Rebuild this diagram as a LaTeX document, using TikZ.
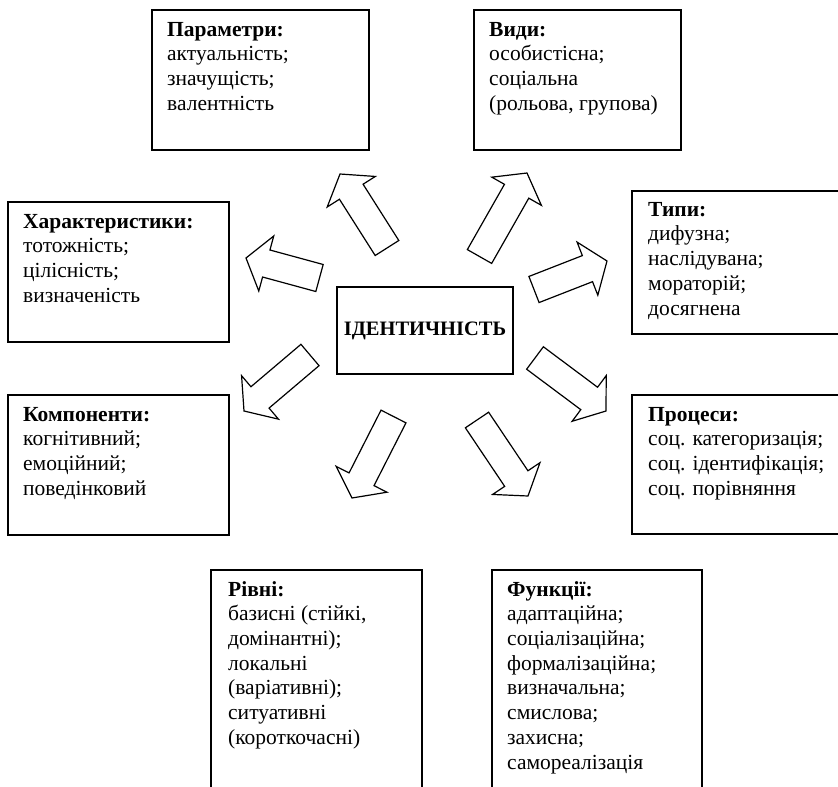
\documentclass[tikz,border=0pt]{standalone}
\usepackage{fontspec}
\setmainfont{Liberation Serif}
\usetikzlibrary{calc}
\tikzset{
  box/.style={draw=black, line width=1.4pt, anchor=north west, inner sep=0pt, outer sep=0pt},
  txt/.style={anchor=north west, align=left, inner sep=0pt, font=\fontsize{21.5}{24.7}\selectfont,
              execute at begin node={\rule{0pt}{16pt}}},
  barrow/.style={draw=black, line width=1.2pt, fill=white, line join=miter},
}
\newcommand{\blockarrow}[2]{%
  \coordinate (#1h) at ($(#2)!21pt!(#1)$);
  \draw[barrow] ($(#1)!14pt!90:(#2)$) -- ($(#1h)!14pt!90:(#2)$) -- ($(#1h)!28.5pt!90:(#2)$)
    -- (#2) -- ($(#1h)!28.5pt!-90:(#2)$) -- ($(#1h)!14pt!-90:(#2)$) -- ($(#1)!14pt!-90:(#2)$) -- cycle;
}
\begin{document}
\begin{tikzpicture}[x=1pt,y=-1pt]
\useasboundingbox (0,0) rectangle (838,787);
\clip (0,0) rectangle (838,787);
% boxes
\node[box, minimum width=217pt, minimum height=140pt] (par) at (152,10) {};
\node[txt] (part) at (167,22) {\textbf{Параметри:}\\актуальність;\\значущість;\\валентність};
\node[box, minimum width=207pt, minimum height=140pt] (vid) at (474,10) {};
\node[txt] (vidt) at (489,22) {\textbf{Види:}\\особистісна;\\соціальна\\(рольова, групова)};
\node[box, minimum width=221pt, minimum height=140pt] (har) at (8,202) {};
\node[txt] (hart) at (23,214) {\textbf{Характеристики:}\\тотожність;\\цілісність;\\визначеність};
\node[box, minimum width=260pt, minimum height=143pt] (tip) at (632,191) {};
\node[txt] (tipt) at (648,202) {\textbf{Типи:}\\дифузна;\\наслідувана;\\мораторій;\\досягнена};
\node[box, minimum width=221pt, minimum height=140pt] (kom) at (8,395) {};
\node[txt] (komt) at (23,407) {\textbf{Компоненти:}\\когнітивний;\\емоційний;\\поведінковий};
\node[box, minimum width=260pt, minimum height=139pt] (pro) at (632,395) {};
\node[txt] (prot) at (648,407) {\textbf{Процеси:}\\соц. категоризація;\\соц. ідентифікація;\\соц. порівняння};
\node[box, minimum width=211pt, minimum height=300pt] (riv) at (211,570) {};
\node[txt] (rivt) at (228,581) {\textbf{Рівні:}\\базисні (стійкі,\\домінантні);\\локальні\\(варіативні);\\ситуативні\\(короткочасні)};
\node[box, minimum width=210pt, minimum height=300pt] (fun) at (492,570) {};
\node[txt] (funt) at (507,581) {\textbf{Функції:}\\адаптаційна;\\соціалізаційна;\\формалізаційна;\\визначальна;\\смислова;\\захисна;\\самореалізація};
% centre
\node[draw=black, line width=1.4pt, minimum width=176pt, minimum height=87pt, inner sep=0pt,
      font=\fontsize{20.5}{24.6}\selectfont\bfseries] (c) at (425,330.5) {ІДЕНТИЧНІСТЬ};
% arrows
\coordinate (a1) at (387,248);   \coordinate (b1) at (340,174);
\coordinate (a2) at (319.5,278); \coordinate (b2) at (246,258);
\coordinate (a3) at (479.5,256.5); \coordinate (b3) at (527,173);
\coordinate (a4) at (534,289.5); \coordinate (b4) at (607,261);
\coordinate (a5) at (310,355);   \coordinate (b5) at (244,411);
\coordinate (a6) at (393.5,416.5); \coordinate (b6) at (352,498);
\coordinate (a7) at (535,358);   \coordinate (b7) at (606,411);
\coordinate (a8) at (477,420);   \coordinate (b8) at (528,496);
\blockarrow{a1}{b1}
\blockarrow{a2}{b2}
\blockarrow{a3}{b3}
\blockarrow{a4}{b4}
\blockarrow{a5}{b5}
\blockarrow{a6}{b6}
\blockarrow{a7}{b7}
\blockarrow{a8}{b8}
\end{tikzpicture}
\end{document}
